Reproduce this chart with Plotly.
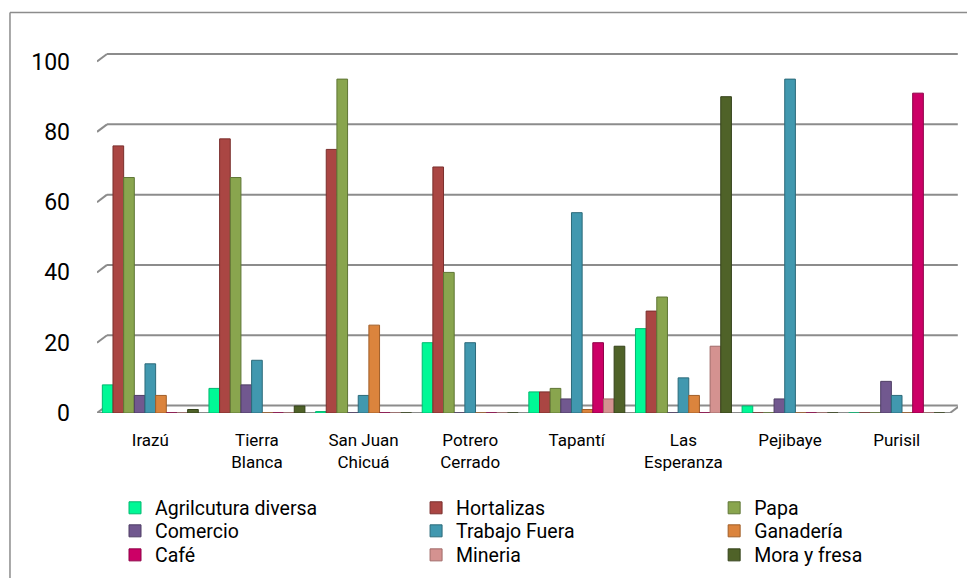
import plotly.graph_objects as go

categories = ["Irazú", "Tierra Blanca", "San Juan Chicuá", "Potrero Cerrado",
              "Tapantí", "Las Esperanza", "Pejibaye", "Purisil"]
tick_labels = ["Irazú", "Tierra<br>Blanca", "San Juan<br>Chicuá", "Potrero<br>Cerrado",
               "Tapantí", "Las<br>Esperanza", "Pejibaye", "Purisil"]

series_names = ["Agrilcutura diversa", "Hortalizas", "Papa", "Comercio", "Trabajo Fuera",
                "Ganadería", "Café", "Mineria", "Mora y fresa"]

agricultura_diversa = [8, 7, 0.4, 20, 6, 24, 2, 0]
hortalizas = [76, 78, 75, 70, 6, 29, 0, 0]
papa = [67, 67, 95, 40, 7, 33, 0, 0]
comercio = [5, 8, 0, 0, 4, 0, 4, 9]
trabajo_fuera = [14, 15, 5, 20, 57, 10, 95, 5]
ganaderia = [5, 0, 25, 0, 1, 5, 0, 0]
cafe = [0, 0, 0, 0, 20, 0, 0, 91]
mineria = [0, 0, 0, 0, 4, 19, 0, 0]
mora_y_fresa = [1, 2, 0, 0, 19, 90, 0, 0]

y_ticks = [0, 20, 40, 60, 80, 100]

values = [agricultura_diversa, hortalizas, papa, comercio, trabajo_fuera,
          ganaderia, cafe, mineria, mora_y_fresa]
colors = ["#00F896", "#AA4643", "#89A54E", "#71588F", "#4198AF",
          "#DB843D", "#CC0066", "#D49290", "#4F6228"]
edge = ["#00B870", "#7A2F2D", "#5F7635", "#4E3D64", "#2C6A7A",
        "#A05E28", "#8E0047", "#A06A68", "#34421A"]

font_family = "Roboto, Lato, sans-serif"
grid_color = "#8C8C8C"

# page body has an 8px margin: work in page pixels, convert to figure pixels
OFF = 8
W, H = 975 - OFF, 578 - OFF
Y_MAX = 103          # a little headroom so the back-wall 100 line is not clipped
X_EXTRA = 0.075      # room on the right for the back wall
cat_w = 106.6        # page pixels per category
px_per_unit = 3.51   # page pixels per y unit
front_left, floor_y = 97, 413
plot_left = front_left
plot_right = front_left + cat_w * (len(categories) + X_EXTRA)
plot_bottom = floor_y
plot_top = floor_y - px_per_unit * Y_MAX
L = plot_left - OFF
T = plot_top - OFF
R = W - (plot_right - OFF)
B = H - (plot_bottom - OFF)
pw, ph = W - L - R, H - T - B

def px_x(px):
    return (px - OFF - L) / pw

def px_y(py):
    return (H - B - (py - OFF)) / ph

# legend grid (page pixels): square centres of the 3 columns and 3 rows
col_square_x = [137, 438, 736]
row_center_y = [508, 531, 555]

fig = go.Figure()
legend_layout = {}
for i, (name, vals, c, e) in enumerate(zip(series_names, values, colors, edge)):
    lg = "legend" if i == 0 else f"legend{i + 1}"
    r, col = divmod(i, 3)
    fig.add_trace(go.Bar(
        x=categories, y=vals, name=name,
        marker=dict(color=c, line=dict(color=e, width=1)),
        legend=lg,
    ))
    legend_layout[lg] = dict(
        x=px_x(col_square_x[col] - 22), y=px_y(row_center_y[r]),
        xanchor="left", yanchor="middle", orientation="v",
        font=dict(family=font_family, size=19.5, color="#000000"),
        bgcolor="rgba(0,0,0,0)", itemclick=False, itemdoubleclick=False,
    )

# 3-D look: gridlines on the back wall (offset up/right), with diagonal stubs
DX, DY = 10, 7.5
x_first = -0.5
x_last = len(categories) - 0.5
shapes = []
for v in y_ticks:
    shapes.append(dict(type="line", layer="below", xref="x", yref="y",
                       xsizemode="pixel", xanchor=x_first, x0=0, x1=DX,
                       ysizemode="pixel", yanchor=v, y0=0, y1=DY,
                       line=dict(color=grid_color, width=2)))
    shapes.append(dict(type="line", layer="below", xref="x", yref="y",
                       xsizemode="pixel", xanchor=x_first, x0=DX, x1=pw,
                       ysizemode="pixel", yanchor=v, y0=DY, y1=DY,
                       line=dict(color=grid_color, width=2)))
# front edge of the floor and its right end
shapes.append(dict(type="line", layer="below", xref="x", yref="y",
                   x0=x_first, x1=x_last, y0=0, y1=0,
                   line=dict(color=grid_color, width=2)))
shapes.append(dict(type="line", layer="below", xref="x", yref="y",
                   xsizemode="pixel", xanchor=x_last, x0=0, x1=DX,
                   ysizemode="pixel", yanchor=0, y0=0, y1=DY,
                   line=dict(color=grid_color, width=2)))
# outer frame of the chart
shapes.append(dict(type="line", xref="paper", yref="paper",
                   x0=px_x(10), x1=px_x(10), y0=px_y(600), y1=px_y(13),
                   line=dict(color=grid_color, width=1.5)))
shapes.append(dict(type="line", xref="paper", yref="paper",
                   x0=px_x(10), x1=px_x(990), y0=px_y(13), y1=px_y(13),
                   line=dict(color=grid_color, width=1.5)))

fig.update_layout(
    width=W, height=H,
    margin=dict(l=L, r=R, t=T, b=B, autoexpand=False),
    paper_bgcolor="white", plot_bgcolor="white",
    barmode="group", bargap=0.1, bargroupgap=0,
    font=dict(family=font_family, color="#000000"),
    showlegend=True,
    xaxis=dict(
        categoryorder="array", categoryarray=categories,
        range=[x_first, x_last + X_EXTRA],
        tickmode="array", tickvals=categories, ticktext=tick_labels,
        tickfont=dict(family=font_family, size=17, color="#000000"),
        showgrid=False, showline=False, ticks="", zeroline=False,
        ticklabelstandoff=15,
    ),
    yaxis=dict(
        range=[0, Y_MAX], tickmode="array", tickvals=y_ticks,
        tickfont=dict(family=font_family, size=23, color="#000000"),
        showgrid=False, zeroline=False,
        showline=False, ticks="", ticklabelstandoff=26,
    ),
    shapes=shapes,
    **legend_layout,
)

fig.write_html("out.html")
